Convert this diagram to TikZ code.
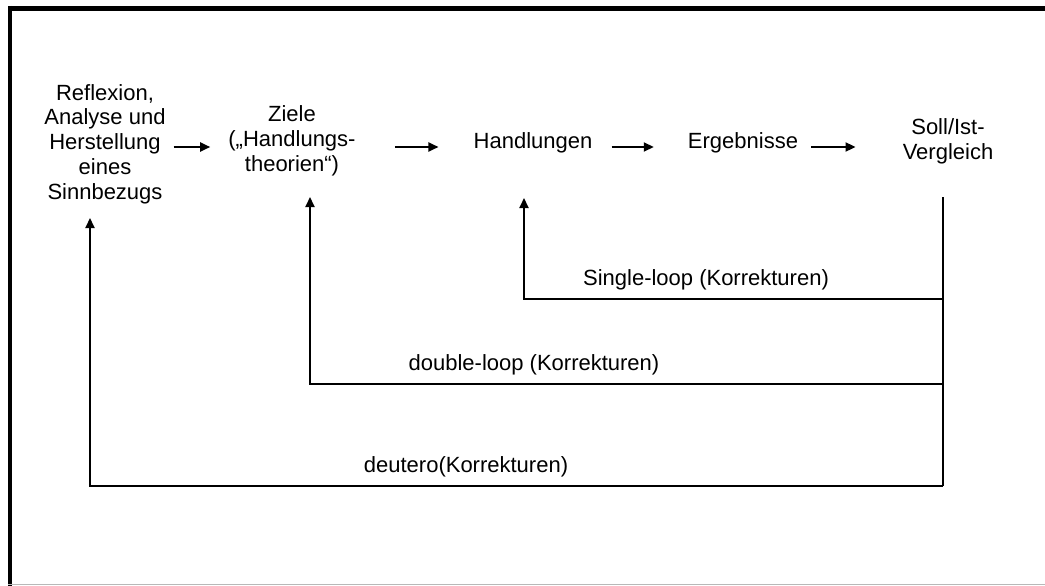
\documentclass[tikz,border=0pt]{standalone}
\usepackage{fontspec}
\setmainfont{Liberation Sans}
\usetikzlibrary{arrows.meta}
\begin{document}
\begin{tikzpicture}[x=1pt,y=-1pt,
  txt/.style={inner sep=0pt,align=center,font=\fontsize{22}{24.8}\selectfont},
  lbl/.style={inner sep=0pt,font=\fontsize{22}{24.8}\selectfont},
  conn/.style={line width=2pt},
  arr/.style={line width=2pt,-{Triangle[length=10pt,width=9pt]}}]
\useasboundingbox (0,0) rectangle (1045,586);
% frame
\draw[line width=5pt] (8,8.5) -- (1045,8.5);
\draw[line width=4pt] (10,6) -- (10,586);
\draw[line width=1.5pt,black!28] (8,584.5) -- (1045,584.5);
% nodes
\node[txt] (ref) at (105,144) {Reflexion,\\Analyse und\\Herstellung\\eines\\Sinnbezugs};
\node[txt] (ziele) at (292,141) {Ziele\\(„Handlungs-\\theorien“)};
\node[txt] (hand) at (533,143) {Handlungen};
\node[txt] (erg) at (743,143) {Ergebnisse};
\node[txt] (soll) at (948,141) {Soll/Ist-\\Vergleich};
% forward arrows
\draw[arr] ([xshift=8pt]ref.east |- 0,147) -- ([xshift=-18pt]ziele.west |- 0,147);
\draw[arr] ([xshift=39pt]ziele.east |- 0,147) -- ([xshift=-35pt]hand.west |- 0,147);
\draw[arr] ([xshift=19pt]hand.east |- 0,147) -- ([xshift=-34pt]erg.west |- 0,147);
\draw[arr] ([xshift=13pt]erg.east |- 0,147) -- ([xshift=-47pt]soll.west |- 0,147);
% feedback loops
\coordinate (fb) at ([xshift=-5pt]soll.south |- 0,197);
\coordinate (s1) at (fb |- 0,299);
\coordinate (s2) at (fb |- 0,384);
\coordinate (s3) at (fb |- 0,486);
\draw[conn] (fb) -- (s3);
\coordinate (t1) at ([xshift=-9pt]hand.south |- 0,198);
\coordinate (t2) at ([xshift=18pt]ziele.south |- 0,197);
\coordinate (t3) at ([xshift=-15pt]ref.south |- 0,218);
\draw[arr] (s1) -| (t1);
\draw[arr] (s2) -| (t2);
\draw[arr] (s3) -| (t3);
\node[lbl] (l1) at (706,280) {Single-loop (Korrekturen)};
\node[lbl] (l2) at (534,365) {double-loop (Korrekturen)};
\node[lbl] (l3) at (466,467) {deutero(Korrekturen)};
\end{tikzpicture}
\end{document}
